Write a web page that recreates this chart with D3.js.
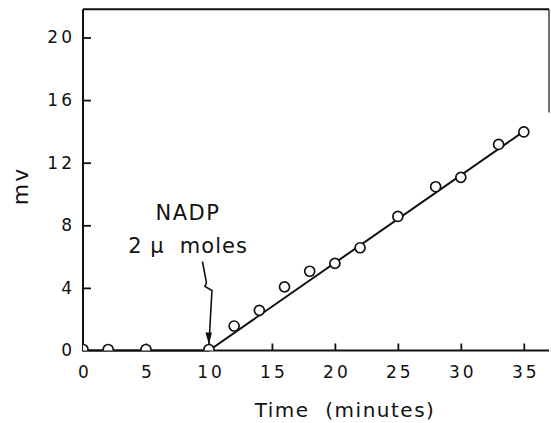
<!DOCTYPE html>
<html lang="en">
<head>
    <meta charset="UTF-8">
    <title>NADP mv vs time</title>
    <script src="https://d3js.org/d3.v7.min.js"></script>
    <style>
        body { margin: 0; background: #fff; }
        text { font-family: "DejaVu Sans", sans-serif; fill: #111; }
    </style>
</head>
<body>
<script>
    // observed points (minutes, mv)
    const timeMin = [0, 2, 5, 10, 12, 14, 16, 18, 20, 22, 25, 28, 30, 33, 35]
    const mvValues = [0, 0, 0, 0, 1.5, 2.5, 4, 5, 5.5, 6.5, 8.5, 10.4, 11, 13.1, 13.9]

    // fitted line
    const fitTime = [0, 10, 35]
    const fitMv = [0, 0, 14]

    const xTicks = [0, 5, 10, 15, 20, 25, 30, 35]
    const yTicks = [0, 4, 8, 12, 16, 20]

    const width = 551
    const height = 423

    const svg = d3.select("body")
        .append("svg")
        .attr("width", width)
        .attr("height", height)

    const x = d3.scaleLinear().domain([0, 37]).range([83, 549])
    const y = d3.scaleLinear().domain([0, 21.8]).range([350.5, 9.3])

    // axes with inside ticks
    const xAxis = svg.append("g")
        .attr("transform", `translate(0, ${y(0)})`)
        .call(d3.axisBottom(x).tickValues(xTicks).tickSizeInner(-7).tickSizeOuter(0).tickPadding(15))
    const yAxis = svg.append("g")
        .attr("transform", `translate(${x(0)}, 0)`)
        .call(d3.axisLeft(y).tickValues(yTicks).tickSizeInner(-8).tickSizeOuter(0).tickPadding(11))

    for (const ax of [xAxis, yAxis]) {
        ax.select(".domain").remove()
        ax.selectAll("line").attr("stroke", "#111").attr("stroke-width", 1.8)
        ax.selectAll("text")
            .style("font-family", "DejaVu Sans, sans-serif")
            .style("font-size", "17px")
            .style("letter-spacing", "3px")
            .attr("fill", "#111")
    }
    // letter-spacing adds trailing space; nudge so glyphs stay centred / right-aligned
    xAxis.selectAll("text").attr("dx", 1.5)
    yAxis.selectAll("text").attr("dx", 3)
    xAxis.selectAll(".tick").filter(d => d === 0).select("line").remove()
    yAxis.selectAll(".tick").filter(d => d === 0).select("line").remove()

    // frame
    const frame = svg.append("g").attr("stroke", "#111").attr("fill", "none")
    frame.append("line").attr("x1", x(0)).attr("x2", x(0)).attr("y1", y(21.8)).attr("y2", y(0)).attr("stroke-width", 2)
    frame.append("line").attr("x1", x(0) - 1).attr("x2", x(37)).attr("y1", y(0)).attr("y2", y(0)).attr("stroke-width", 2.2)
    frame.append("line").attr("x1", x(0)).attr("x2", x(37)).attr("y1", y(21.8)).attr("y2", y(21.8)).attr("stroke-width", 2)
    frame.append("line").attr("x1", x(37)).attr("x2", x(37)).attr("y1", y(21.8)).attr("y2", y(15.2)).attr("stroke-width", 1.2)

    // clip for points (above axis, right of y axis)
    svg.append("clipPath").attr("id", "plot")
        .append("rect")
        .attr("x", x(0)).attr("y", y(21.8))
        .attr("width", x(37) - x(0)).attr("height", y(0) - y(21.8))

    const fit = d3.line().x((d, i) => x(fitTime[i])).y((d, i) => y(fitMv[i]))
    svg.append("path")
        .attr("d", fit(fitTime))
        .attr("fill", "none")
        .attr("stroke", "#111")
        .attr("stroke-width", 2)

    svg.append("g")
        .attr("clip-path", "url(#plot)")
        .selectAll("circle")
        .data(timeMin)
        .enter()
        .append("circle")
        .attr("cx", d => x(d))
        .attr("cy", (d, i) => y(mvValues[i]) - 1)
        .attr("r", 5)
        .attr("fill", "#fff")
        .attr("stroke", "#111")
        .attr("stroke-width", 1.7)

    // NADP annotation
    const tipX = x(10), tipY = y(0) - 6
    svg.append("path")
        .attr("d", `M${tipX - 6.5},${tipY - 83} L${tipX - 2.5},${tipY - 62} L${tipX - 4},${tipY - 58} L${tipX + 3},${tipY - 54} L${tipX},${tipY}`)
        .attr("fill", "none")
        .attr("stroke", "#111")
        .attr("stroke-width", 1.6)
    svg.append("path")
        .attr("d", `M${tipX},${tipY} L${tipX - 3.5},${tipY - 12} L${tipX + 3},${tipY - 12} Z`)
        .attr("fill", "#111")

    const label = (txt, xx, yy, size, spacing) => svg.append("text")
        .attr("x", xx).attr("y", yy)
        .attr("text-anchor", "middle")
        .style("font-size", size + "px")
        .style("letter-spacing", spacing + "px")
        .style("white-space", "pre")
        .text(txt)

    label("NADP", 188, 220, 21, 1.5)
    label("2 \u03bc  moles", 188, 253, 21, 1)
    label("Time  (minutes)", 345, 417, 20, 1.5)

    svg.append("text")
        .attr("transform", "translate(28, 186) rotate(-90)")
        .attr("text-anchor", "middle")
        .style("font-size", "22px")
        .style("letter-spacing", "2px")
        .text("mv")
</script>
</body>
</html>
